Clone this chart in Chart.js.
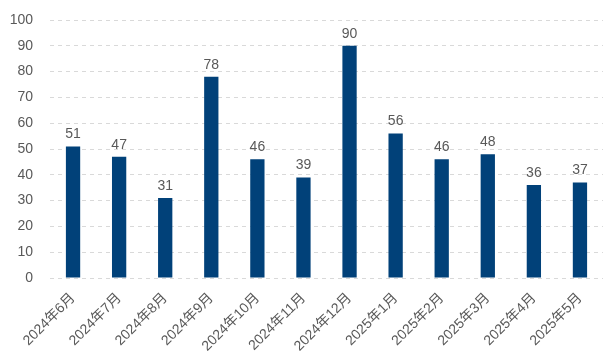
<!DOCTYPE html>
<html>
<head>
<meta charset="utf-8">
<script src="https://cdn.jsdelivr.net/npm/chart.js@4/dist/chart.umd.min.js"></script>
<style>
  html, body { margin: 0; padding: 0; background: #fff; }
  #wrap { width: 609px; height: 363px; }
</style>
</head>
<body>
<div id="wrap"><canvas id="chart-1"></canvas></div>
<script>
const months = ["2024年6月", "2024年7月", "2024年8月", "2024年9月", "2024年10月", "2024年11月",
  "2024年12月", "2025年1月", "2025年2月", "2025年3月", "2025年4月", "2025年5月"];
const values = [51, 47, 31, 78, 46, 39, 90, 56, 46, 48, 36, 37];
const yTicks = [0, 10, 20, 30, 40, 50, 60, 70, 80, 90, 100];

const fontFamily = '"Liberation Sans", Arial, "Noto Sans CJK SC", sans-serif';
const grey = "#595959";

// numbers above each bar
const barLabels = {
  id: "barLabels",
  afterDatasetsDraw(chart) {
    const ctx = chart.ctx;
    ctx.save();
    ctx.font = "14px " + fontFamily;
    ctx.fillStyle = grey;
    ctx.textAlign = "center";
    ctx.textBaseline = "bottom";
    chart.getDatasetMeta(0).data.forEach((bar, i) => {
      ctx.fillText(values[i], bar.x, bar.y - 5);
    });
    ctx.restore();
  }
};

new Chart(document.getElementById("chart-1"), {
  type: "bar",
  data: {
    labels: months,
    datasets: [{
      data: values,
      backgroundColor: "#014179",
      barPercentage: 0.62,
      categoryPercentage: 0.5
    }]
  },
  options: {
    responsive: true,
    maintainAspectRatio: false,
    animation: false,
    layout: { padding: { top: 20, right: 6, left: 0, bottom: 0 } },
    plugins: {
      legend: { display: false },
      tooltip: { enabled: false }
    },
    scales: {
      x: {
        grid: { display: false },
        border: { display: false },
        afterFit(axis) {
          axis.height = 85;
          axis.paddingLeft = 0;
          axis.paddingRight = 0;
        },
        ticks: {
          color: grey,
          font: { family: fontFamily, size: 14 },
          minRotation: 45,
          maxRotation: 45,
          padding: 4
        }
      },
      y: {
        min: 0,
        max: 100,
        afterBuildTicks(axis) { axis.ticks = yTicks.map(v => ({ value: v })); },
        afterFit(axis) {
          axis.width = 50;
          axis.paddingTop = 0;
          axis.paddingBottom = 0;
        },
        grid: { color: "#d9d9d9", drawTicks: false },
        border: { display: false, dash: [4, 4] },
        ticks: {
          color: grey,
          font: { family: fontFamily, size: 14 },
          padding: 17
        }
      }
    }
  },
  plugins: [barLabels]
});
</script>
</body>
</html>
